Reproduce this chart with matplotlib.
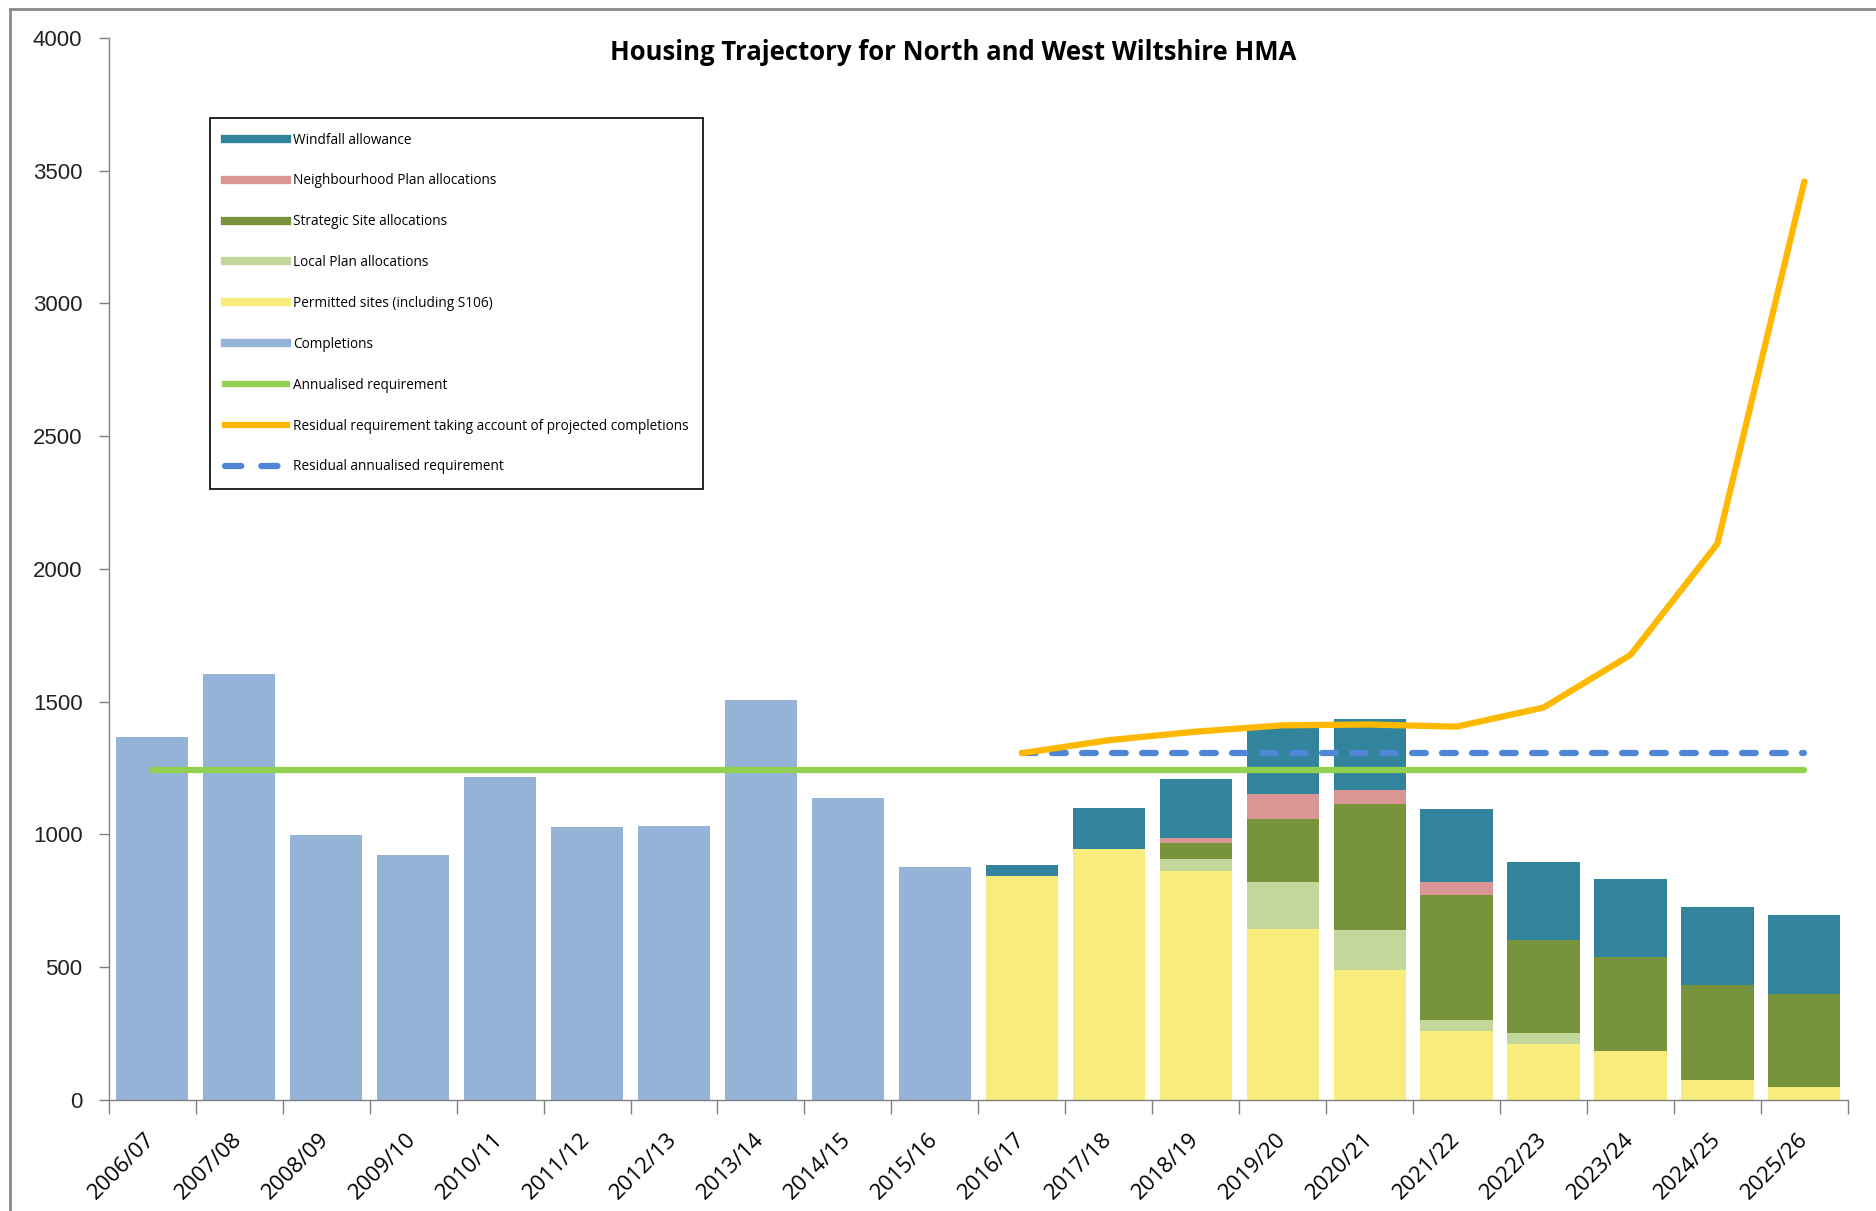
import matplotlib.pyplot as plt
import numpy as np
from matplotlib.lines import Line2D

# data
years = ['2006/07', '2007/08', '2008/09', '2009/10', '2010/11', '2011/12', '2012/13',
         '2013/14', '2014/15', '2015/16', '2016/17', '2017/18', '2018/19', '2019/20',
         '2020/21', '2021/22', '2022/23', '2023/24', '2024/25', '2025/26']

completions = [1366, 1605, 997, 924, 1218, 1028, 1033, 1506, 1137, 879,
               0, 0, 0, 0, 0, 0, 0, 0, 0, 0]
permitted = [0, 0, 0, 0, 0, 0, 0, 0, 0, 0,
             845, 945, 864, 644, 491, 258, 210, 183, 77, 50]
local_plan = [0, 0, 0, 0, 0, 0, 0, 0, 0, 0,
              0, 0, 45, 178, 148, 45, 43, 0, 0, 0]
strategic = [0, 0, 0, 0, 0, 0, 0, 0, 0, 0,
             0, 0, 60, 235, 477, 468, 348, 355, 355, 349]
neighbourhood = [0, 0, 0, 0, 0, 0, 0, 0, 0, 0,
                 0, 0, 19, 96, 50, 51, 0, 0, 0, 0]
windfall = [0, 0, 0, 0, 0, 0, 0, 0, 0, 0,
            41, 154, 220, 255, 267, 272, 294, 293, 294, 299]

annualised_req = 1243
residual_annualised = 1306
residual_req = [1306, 1355, 1387, 1411, 1414, 1406, 1478, 1676, 2095, 3459]  # 2016/17 onwards

x = np.arange(len(years))
width = 0.83

fig = plt.figure(figsize=(18.76, 12.11), dpi=100)
ax = fig.add_axes([0.058, 0.0917, 0.927, 0.877])

# stacked bars
layers = [
    (completions, '#95B3D7'),
    (permitted, '#F7EC7C'),
    (local_plan, '#C4D79B'),
    (strategic, '#77933C'),
    (neighbourhood, '#D99694'),
    (windfall, '#31849B'),
]
bottom = np.zeros(len(years))
for vals, col in layers:
    ax.bar(x, vals, width, bottom=bottom, color=col, zorder=2)
    bottom += np.array(vals)

# lines
ax.plot([x[0], x[-1]], [annualised_req, annualised_req], color='#92D050', lw=4.5,
        solid_capstyle='round', zorder=3)
ax.plot([x[10], x[-1]], [residual_annualised, residual_annualised], color='#4F86D6', lw=4.5,
        dashes=(2.2, 2.6), dash_capstyle='round', zorder=3)
ax.plot(x[10:], residual_req, color='#FFB800', lw=4.5, solid_joinstyle='round',
        solid_capstyle='round', zorder=4)

# axes styling
ax.set_xlim(-0.5, len(years) - 0.5)
ax.set_ylim(0, 4000)
ax.set_yticks(np.arange(0, 4001, 500))
ax.tick_params(axis='y', length=7, width=1, color='#808080', pad=12, labelsize=16)
for lab in ax.get_yticklabels():
    lab.set_family('Liberation Sans')
    lab.set_color('#222222')

ax.set_xticks(x)
ax.set_xticklabels(years, rotation=45, ha='right', va='center', rotation_mode='anchor',
                   fontsize=16, family='Open Sans')
ax.tick_params(axis='x', which='major', length=0, pad=26)
ax.set_xticks(np.arange(-0.5, len(years), 1), minor=True)
ax.tick_params(axis='x', which='minor', length=10, width=1, color='#808080')

for side in ['top', 'right']:
    ax.spines[side].set_visible(False)
for side in ['left', 'bottom']:
    ax.spines[side].set_color('#808080')
    ax.spines[side].set_linewidth(1)

fig.text(0.508, 0.957, 'Housing Trajectory for North and West Wiltshire HMA',
         ha='center', va='center', fontsize=18.5, fontweight='bold', family='Open Sans')

# legend (Excel shows every series as a thick line)
handles = [
    Line2D([], [], color='#31849B', lw=6),
    Line2D([], [], color='#D99694', lw=6),
    Line2D([], [], color='#77933C', lw=6),
    Line2D([], [], color='#C4D79B', lw=6),
    Line2D([], [], color='#F7EC7C', lw=6),
    Line2D([], [], color='#95B3D7', lw=6),
    Line2D([], [], color='#92D050', lw=4.5),
    Line2D([], [], color='#FFB800', lw=4.5),
    Line2D([], [], color='#4F86D6', lw=4.5, dashes=(2.6, 3.2), dash_capstyle='round'),
]
labels = ['Windfall allowance', 'Neighbourhood Plan allocations', 'Strategic Site allocations',
          'Local Plan allocations', 'Permitted sites (including S106)', 'Completions',
          'Annualised requirement', 'Residual requirement taking account of projected completions',
          'Residual annualised requirement']
leg = ax.legend(handles, labels, loc='upper left', bbox_to_anchor=(0.0584, 0.9243),
                borderaxespad=0, handlelength=4.6, handletextpad=0.45, labelspacing=1.9,
                borderpad=1.05, fancybox=False, framealpha=1, edgecolor='black',
                prop={'family': 'Open Sans', 'size': 9.8})
leg.get_frame().set_linewidth(1.2)

# outer chart frame (top and left edges are visible in the reference)
fig.add_artist(Line2D([0.0053, 1.0], [0.9925, 0.9925], transform=fig.transFigure,
                      color='#8a8a8a', lw=2))
fig.add_artist(Line2D([0.0053, 0.0053], [0.0, 0.9925], transform=fig.transFigure,
                      color='#8a8a8a', lw=2))

fig.savefig('out.png', dpi=100)
